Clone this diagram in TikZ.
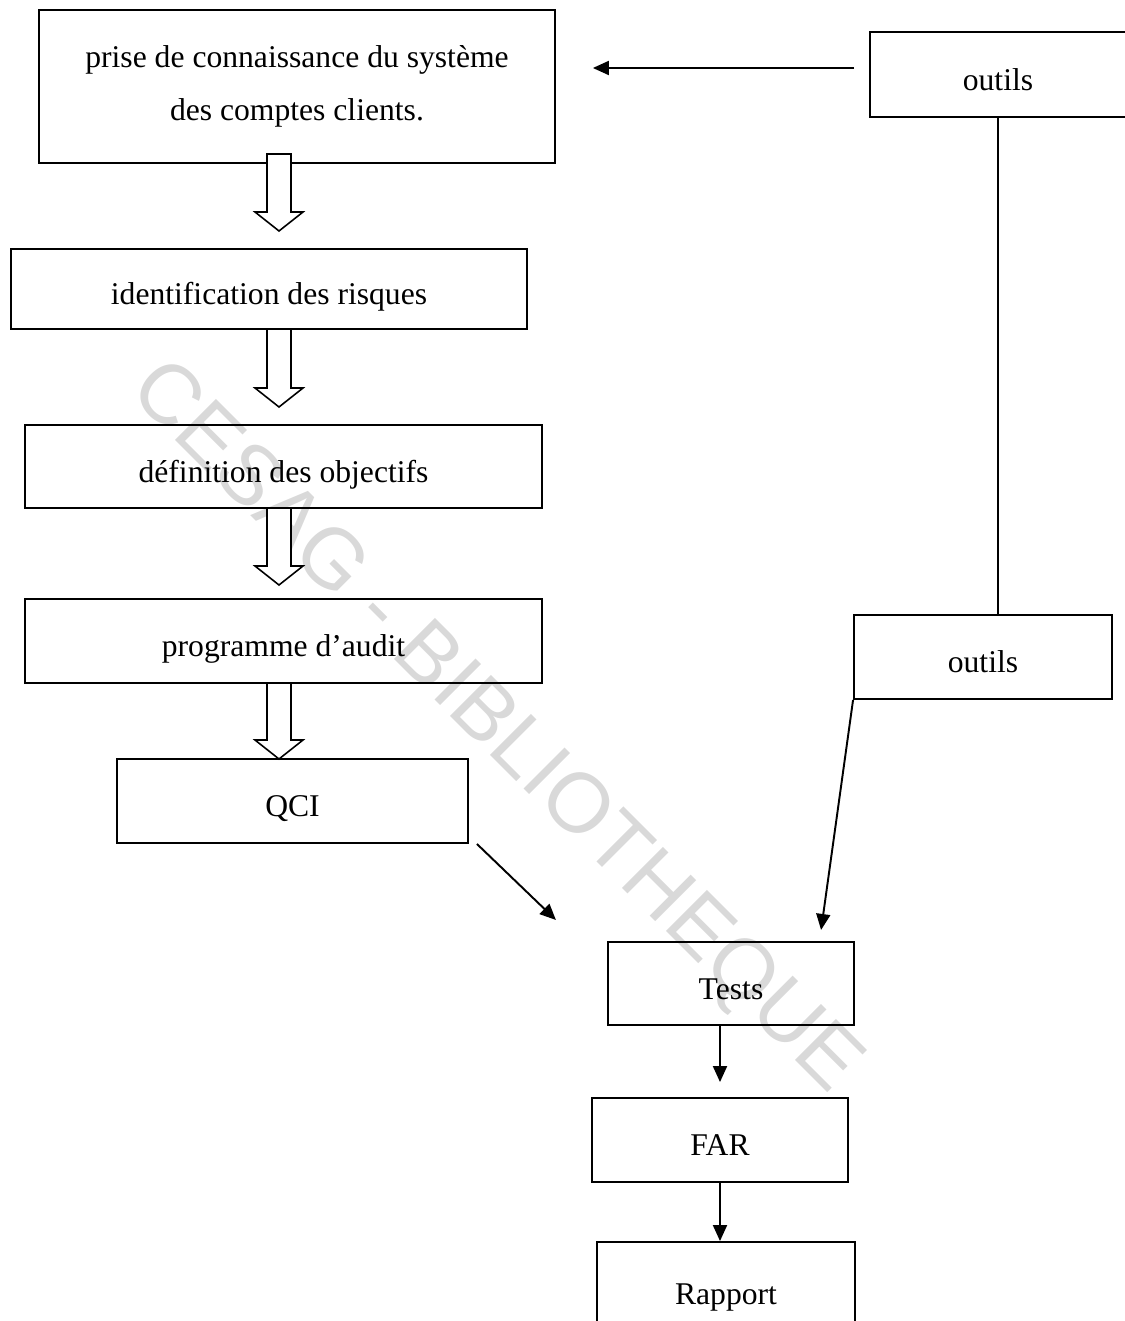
\documentclass[tikz,border=0pt]{standalone}
\usepackage{fontspec}
\setmainfont{Liberation Serif}
\setsansfont{Liberation Sans}
\usetikzlibrary{arrows.meta, calc, positioning}

% big hollow arrow: x, top of shaft, tip
\newcommand{\hollowarrow}[3]{%
  \filldraw[fill=white, line width=0.9pt] ({#1-12},#2) -- ({#1-12},{#3-19}) -- ({#1-24},{#3-19}) -- (#1,#3)
    -- ({#1+24},{#3-19}) -- ({#1+12},{#3-19}) -- ({#1+12},#2) -- cycle;}

\begin{document}
\begin{tikzpicture}[x=0.02cm, y=-0.02cm, >={Triangle[length=0.32cm, width=0.28cm]},
  box/.style={draw, line width=1.1pt, align=center, inner sep=0pt, font=\fontsize{18}{30}\selectfont},
  oneline/.style={box, text height=18pt, text depth=0pt},
  link/.style={->, line width=1.1pt}]
\useasboundingbox (0,0) rectangle (1125,1321);

\node(filigrane)[rotate=-45, text=gray!30, font=\fontsize{48}{48}\sffamily] at (494,729) {CESAG - BIBLIOTHEQUE};

\node(prise)[box, minimum width=10.32cm, minimum height=3.06cm] at (297,86.5) {prise de connaissance du système\\des comptes clients.};
\node(idrisk)[oneline, minimum width=10.32cm, minimum height=1.6cm] at (269,289) {identification des risques};
\node(objectifs)[oneline, minimum width=10.34cm, minimum height=1.66cm] at (283.5,466.5) {définition des objectifs};
\node(programme)[oneline, minimum width=10.34cm, minimum height=1.68cm] at (283.5,641) {programme d’audit};
\node(qci)[oneline, minimum width=7.02cm, minimum height=1.68cm] at (292.5,801) {QCI};

\node(outilsA)[oneline, minimum width=5.12cm, minimum height=1.7cm] at (998,74.5) {outils};
\node(outilsB)[oneline, minimum width=5.16cm, minimum height=1.68cm] at (983,657) {outils};

\node(tests)[oneline, minimum width=4.92cm, minimum height=1.66cm] at (731,983.5) {Tests};
\node(far)[oneline, minimum width=5.12cm, minimum height=1.68cm] at (720,1140) {FAR};
\node(rapport)[oneline, minimum width=5.16cm, minimum height=1.88cm] at (726,1289) {Rapport};

\hollowarrow{279}{154}{231}
\hollowarrow{279}{329}{407}
\hollowarrow{279}{508}{585}
\hollowarrow{279}{683}{759}

\draw[link, shorten <=0.3cm, shorten >=0.74cm] ([yshift=0.13cm]outilsA.west) -- ([yshift=0.13cm]outilsA.west -| prise.east);
\draw[line width=0.9pt] (outilsA.south) -- (outilsA.south |- outilsB.north);
\draw[link] (outilsB.south west) -- ++(-32,230);
\draw[link] ([xshift=0.16cm]qci.south east) -- ++(79,76);
\draw[link, shorten >=0.3cm] (tests.south -| far.north) -- (far.north);
\draw[link] (far.south) -- (far.south |- rapport.north);
\end{tikzpicture}
\end{document}
